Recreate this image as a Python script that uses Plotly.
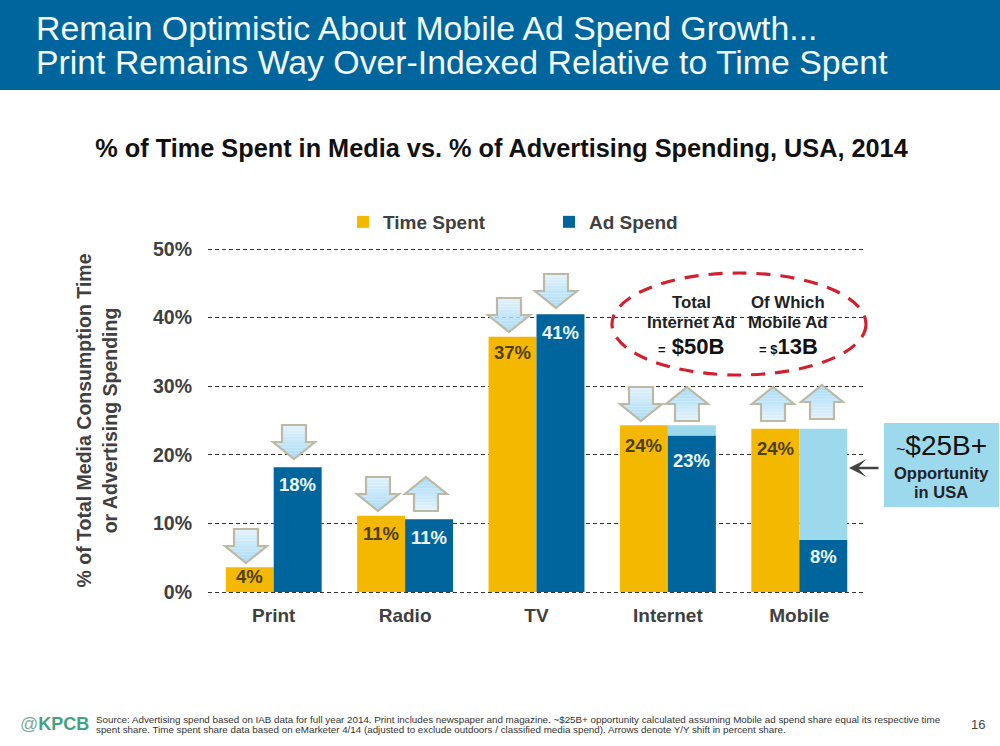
import plotly.graph_objects as go

# data
categories = ['Print', 'Radio', 'TV', 'Internet', 'Mobile']
time_spent = [3.6, 11.1, 37.2, 24.3, 23.8]
ad_spend = [18.2, 10.6, 40.5, 22.8, 7.6]
time_labels = ['4%', '11%', '37%', '24%', '24%']
ad_labels = ['18%', '11%', '41%', '23%', '8%']
y_ticks = [0, 10, 20, 30, 40, 50]
y_tick_labels = ['0%', '10%', '20%', '30%', '40%', '50%']

# Y/Y shift arrows: pixel centre, pixel top, direction
arrow_x = [246, 294, 378, 426, 509, 556, 641, 687, 773, 822]
arrow_top = [529, 425, 477, 477, 298, 274, 387, 387, 387, 385]
arrow_dir = ['down', 'down', 'down', 'up', 'down', 'down', 'down', 'up', 'up', 'up']

# how far below the bar top each label sits, px
time_drop = [9, 18, 16, 20, 20]
ad_drop = [17, 18, 18, 25, 17]

YELLOW = '#F5B800'
BLUE = '#00659C'
LIGHT = '#9CD9EC'
GREY = '#404040'
FONT = 'Liberation Sans'
BAR_W = 0.365


def px(x):
    return x / 1000


def py(y):
    return 1 - y / 746


def mix(a, b, t):
    c = [round(a[i] + (b[i] - a[i]) * t) for i in range(3)]
    return f'rgb({c[0]},{c[1]},{c[2]})'


def arrow_shapes(cx, top, direction):
    w, h, shaft, head = 21, 34, 12, 17
    out = []

    # half width at a distance d from the tip
    def half(d):
        return w * d / head if d < head else shaft

    n = 12
    for j in range(n):
        d0, d1 = h * j / n, h * (j + 1) / n
        if d0 < head < d1:
            d1 = head
        t = d0 / h
        col = mix((170, 220, 247), (228, 243, 252), t)
        if direction == 'down':
            y0, y1 = top + h - d0, top + h - d1
        else:
            y0, y1 = top + d0, top + d1
        h0, h1 = half(d0), half(d1) if d1 != head else w
        path = (f'M {px(cx - h0)} {py(y0)} L {px(cx + h0)} {py(y0)} '
                f'L {px(cx + h1)} {py(y1)} L {px(cx - h1)} {py(y1)} Z')
        out.append(dict(type='path', xref='paper', yref='paper', path=path,
                        fillcolor=col, line=dict(width=0), layer='above'))
    s = 1 if direction == 'up' else -1
    tip = top if direction == 'up' else top + h
    pts = [(cx, tip), (cx + w, tip + s * head), (cx + shaft, tip + s * head),
           (cx + shaft, tip + s * h), (cx - shaft, tip + s * h), (cx - shaft, tip + s * head),
           (cx - w, tip + s * head)]
    path = 'M ' + ' L '.join(f'{px(a)} {py(b)}' for a, b in pts) + ' Z'
    out.append(dict(type='path', xref='paper', yref='paper', path=path,
                    line=dict(color='#BDB9A4', width=2.2), layer='above'))
    return out


x = list(range(len(categories)))
gap = [max(t - a, 0) for t, a in zip(time_spent, ad_spend)]

fig = go.Figure()
fig.add_trace(go.Bar(x=x, y=time_spent, name='Time Spent', marker_color=YELLOW, marker_line_width=0,
                     width=BAR_W, offset=-BAR_W))
fig.add_trace(go.Bar(x=x, y=ad_spend, name='Ad Spend', marker_color=BLUE, marker_line_width=0,
                     width=BAR_W, offset=0))
# share gap between ad spend and time spent, only Internet and Mobile have it
fig.add_trace(go.Bar(x=x[3:], y=gap[3:], base=ad_spend[3:], name='Opportunity', marker_color=LIGHT,
                     marker_line_width=0, width=BAR_W, offset=0, showlegend=False))

shapes = [dict(type='rect', xref='paper', yref='paper', x0=0, x1=1, y0=py(90), y1=1,
               fillcolor=BLUE, line=dict(width=0), layer='below'),
          dict(type='circle', xref='paper', yref='paper', x0=px(612), x1=px(866), y0=py(375), y1=py(273),
               line=dict(color='#D2202F', width=3.2, dash='14px,10px'), layer='above'),
          dict(type='rect', xref='paper', yref='paper', x0=px(884), x1=px(999), y0=py(507), y1=py(423),
               fillcolor=LIGHT, line=dict(width=0), layer='above')]
for cx, top, d in zip(arrow_x, arrow_top, arrow_dir):
    shapes += arrow_shapes(cx, top, d)


def text(xp, yp, s, size, color='#111111', weight=700, anchor='center', family=FONT):
    return dict(xref='paper', yref='paper', x=px(xp), y=py(yp), text=s, showarrow=False, xanchor=anchor,
                yanchor='middle', align='left' if anchor == 'left' else 'center',
                font=dict(family=family, size=size, color=color, weight=weight))


annotations = [
    text(34, 28, 'Remain Optimistic About Mobile Ad Spend Growth...', 33.8, '#F2FAFD', 400, 'left'),
    text(34, 62, 'Print Remains Way Over-Indexed Relative to Time Spent', 33.8, '#F2FAFD', 400, 'left'),
    text(691, 302, 'Total', 16.8, '#222222'),
    text(691, 322, 'Internet Ad', 16.8, '#222222'),
    text(691, 346, '<span style="font-size:13px">=</span> $50B', 22, '#111111'),
    text(788, 302, 'Of Which', 16.8, '#222222'),
    text(788, 322, 'Mobile Ad', 16.8, '#222222'),
    text(788, 346, '<span style="font-size:13px">= $</span>13B', 22, '#111111'),
    text(941, 446, '<span style="font-size:16px">~</span>$25B+', 28, '#111111', 400),
    text(941, 473, 'Opportunity', 16.5, '#222222'),
    text(941, 492, 'in USA', 16.5, '#222222'),
    text(18, 724, '<span style="color:#7FA9A0;font-weight:400">@</span>KPCB', 18, '#3FA37F', 700, 'left'),
    text(94, 719, 'Source: Advertising spend based on IAB data for full year 2014. Print includes newspaper and '
         'magazine. ~$25B+ opportunity calculated assuming Mobile ad spend share equal its respective time',
         9.8, '#333333', 400, 'left'),
    text(94, 729, 'spent share. Time spent share data based on eMarketer 4/14 (adjusted to exclude outdoors / '
         'classified media spend). Arrows denote Y/Y shift in percent share.', 9.8, '#333333', 400, 'left'),
    text(978, 724, '16', 13, '#444444', 400),
    dict(xref='paper', yref='paper', axref='pixel', ayref='pixel', x=px(849), y=py(468), ax=31, ay=0,
         text='', showarrow=True, arrowhead=3, arrowsize=1.2, arrowwidth=2.4, arrowcolor='#444444'),
]

# value labels hang below the top of each bar
for i in x:
    annotations.append(dict(x=i - BAR_W / 2, y=time_spent[i], yshift=-time_drop[i], text=time_labels[i],
                            showarrow=False, yanchor='middle',
                            font=dict(family=FONT, size=18.5, color='#4D3F10', weight=700)))
    annotations.append(dict(x=i + BAR_W / 2, y=ad_spend[i], yshift=-ad_drop[i], text=ad_labels[i],
                            showarrow=False, yanchor='middle',
                            font=dict(family=FONT, size=18.5, color='#EAF5FA', weight=700)))

fig.update_layout(
    width=1000, height=746,
    margin=dict(l=0, r=0, t=0, b=0, autoexpand=False),
    paper_bgcolor='white', plot_bgcolor='white',
    barmode='overlay',
    title=dict(text='% of Time Spent in Media vs. % of Advertising Spending, USA, 2014',
               x=0.5015, xanchor='center', y=py(148), yanchor='middle',
               font=dict(family=FONT, size=25.3, color='#111111', weight=700)),
    legend=dict(orientation='h', x=px(343), y=py(222), xanchor='left', yanchor='middle',
                entrywidth=161, entrywidthmode='pixels', traceorder='normal',
                font=dict(family=FONT, size=19, color=GREY, weight=700), bgcolor='rgba(0,0,0,0)'),
    xaxis=dict(domain=[px(208), px(865)], range=[-0.5, 4.5], tickmode='array', tickvals=x, ticktext=categories,
               showgrid=False, zeroline=False, showline=False, ticks='', ticklabelstandoff=9,
               tickfont=dict(family=FONT, size=19, color=GREY, weight=700)),
    # range a bit past 0 and 50, plotly drops gridlines within 1px of the ends
    yaxis=dict(domain=[py(593.37), py(247.63)], range=[-0.2, 50.2], tickmode='array', tickvals=y_ticks,
               ticktext=y_tick_labels,
               showgrid=True, griddash='4px,3px', gridcolor='#333333', gridwidth=1.2, zeroline=False, showline=False,
               ticks='', ticklabelstandoff=15, tickfont=dict(family=FONT, size=19.5, color=GREY, weight=700),
               title=dict(text='% of Total Media Consumption Time<br>or Advertising Spending', standoff=30,
                          font=dict(family=FONT, size=19.5, color=GREY, weight=700))),
    shapes=shapes,
    annotations=annotations,
)

fig.write_html('out.html', config={'displayModeBar': False},
               post_script="document.body.style.margin='0';document.body.style.overflow='hidden';")
